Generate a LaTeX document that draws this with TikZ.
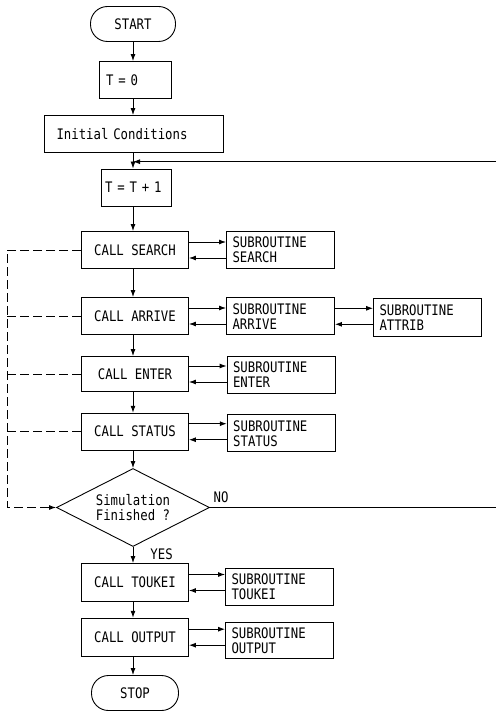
\documentclass[tikz,border=0pt]{standalone}
\usepackage{fontspec}
\newfontfamily\lpfont[FakeStretch=0.85]{DejaVu Sans Mono}
\usepackage{tikz}
\usetikzlibrary{arrows.meta,shapes.geometric,calc}
\tikzset{
    every node/.style={font=\lpfont\fontsize{14.5}{15}\selectfont},
    callbox/.style={draw, line width=0.9pt, minimum width=107pt, minimum height=37pt, inner sep=0pt, align=center},
    subbox/.style={draw, line width=0.9pt, minimum width=108pt, minimum height=37pt, inner sep=0pt,
        text width=96pt, align=left},
    termbox/.style={draw, line width=0.9pt, rounded corners=17pt, minimum height=35pt, inner sep=0pt},
    decbox/.style={draw, line width=0.9pt, diamond, aspect=2, minimum width=153pt, minimum height=78pt, inner sep=0pt, align=center},
    arr/.style={line width=0.9pt, -{Latex[length=7pt,width=5pt]}},
    fback/.style={line width=0.9pt, dash pattern=on 9pt off 4pt}
}
\begin{document}
\begin{tikzpicture}[x=1pt,y=-1pt]
        \useasboundingbox (0,0) rectangle (496,711);
        % main column
        \node[termbox, minimum width=85pt] (start) at (133,24) {START};
        \node[callbox, minimum width=72pt, text width=58pt, align=left] (tzero) at (135,80) {T = 0};
        \node[callbox, minimum width=179pt, text width=155pt, align=left] (init) at (134,134) {Initial Conditions};
        \node[callbox, minimum width=70pt, text width=62pt, align=left] (tinc) at (136,187.5) {T = T + 1};
        \node[callbox] (csearch) at (135,250) {CALL SEARCH};
        \node[callbox] (carrive) at (135,316) {CALL ARRIVE};
        \node[callbox, minimum height=35pt] (center) at (135,374) {CALL ENTER};
        \node[callbox] (cstatus) at (135,431.7) {CALL STATUS};
        \node[decbox] (fin) at (133,507.5) {Simulation\\Finished ?};
        \node[callbox, minimum height=38pt] (ctoukei) at (135,582.5) {CALL TOUKEI};
        \node[callbox, minimum height=38pt] (coutput) at (135,637.2) {CALL OUTPUT};
        \node[termbox, minimum width=87pt] (stop) at (135,693) {STOP};
        % subroutines
        \node[subbox] (ssearch) at (280.5,250) {SUBROUTINE\\SEARCH};
        \node[subbox] (sarrive) at (280.5,316.3) {SUBROUTINE\\ARRIVE};
        \node[subbox, minimum height=38pt] (sattrib) at (427.5,317.2) {SUBROUTINE\\ATTRIB};
        \node[subbox] (senter) at (281,374.7) {SUBROUTINE\\ENTER};
        \node[subbox] (sstatus) at (281.2,433.3) {SUBROUTINE\\STATUS};
        \node[subbox] (stoukei) at (279.5,586.7) {SUBROUTINE\\TOUKEI};
        \node[subbox, minimum height=36pt] (soutput) at (279.5,640.8) {SUBROUTINE\\OUTPUT};
        \coordinate (rtop) at (496,161.7);
        \coordinate (rbot) at (496,509);
        \coordinate (lft) at (7.3,250);

        \draw[arr] (start.south -| 133,0) -- (tzero.north -| 133,0);
        \draw[arr] (tzero.south -| 133,0) -- (init.north -| 133,0);
        \draw[arr] (init.south -| 133,0) -- (tinc.north -| 133,0);
        \draw[arr] (tinc.south -| 133,0) -- (csearch.north -| 133,0);
        \draw[arr] (csearch.south -| 133,0) -- (carrive.north -| 133,0);
        \draw[arr] (carrive.south -| 133,0) -- (center.north -| 133,0);
        \draw[arr] (center.south -| 133,0) -- (cstatus.north -| 133,0);
        \draw[arr] (cstatus.south -| 133,0) -- (fin.north);
        \draw[arr] (fin.south) -- (ctoukei.north -| 133,0) node[pos=0, anchor=north west, inner sep=0pt, xshift=17pt, yshift=-1pt] {YES};
        \draw[arr] (ctoukei.south -| 133,0) -- (coutput.north -| 133,0);
        \draw[arr] (coutput.south -| 133,0) -- (stop.north -| 133,0);

        % loop back
        \draw[line width=0.9pt] (fin.east) -- (fin.east -| rbot) node[pos=0, anchor=south west, yshift=1pt] {NO};
        \draw[arr] (rtop) -- (rtop -| 133,0);

        \foreach \c/\s in {csearch/ssearch, carrive/sarrive, center/senter, cstatus/sstatus,
            ctoukei/stoukei, coutput/soutput, sarrive/sattrib} {
            \draw[arr] ([yshift=8pt]\c.east) -- ([yshift=8pt]\c.east -| \s.west);
            \draw[arr] ([yshift=-8pt]\c.east -| \s.west) -- ([yshift=-8pt]\c.east);
        }

        % dashed feedback
        \draw[fback, -{Latex[length=7pt,width=5pt]}] (csearch.west) -- (csearch.west -| lft) |- (fin.west);
        \foreach \c in {carrive, center, cstatus}
            \draw[fback] (\c.west -| lft) -- (\c.west);
    \end{tikzpicture}
\end{document}
